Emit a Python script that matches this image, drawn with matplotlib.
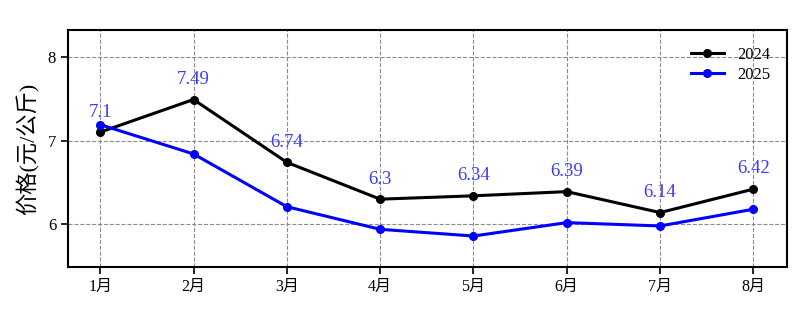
import matplotlib
matplotlib.use("Agg")
import matplotlib.pyplot as plt

months = ["1月", "2月", "3月", "4月", "5月", "6月", "7月", "8月"]
price_2024 = [7.10, 7.49, 6.74, 6.30, 6.34, 6.39, 6.14, 6.42]
price_2025 = [7.19, 6.84, 6.21, 5.94, 5.86, 6.02, 5.98, 6.18]
labels_2024 = ["7.1", "7.49", "6.74", "6.3", "6.34", "6.39", "6.14", "6.42"]

plt.rcParams['font.family'] = ['Liberation Serif', 'Noto Sans CJK SC', 'DejaVu Sans']
plt.rcParams['axes.unicode_minus'] = False

fig = plt.figure(figsize=(8.01, 3.13), dpi=100)
ax = fig.add_axes([68/801, 1 - 267/313, (787-68)/801, (267-30)/313])

x = list(range(len(months)))
ax.plot(x, price_2024, color='black', lw=2.2, marker='o', ms=5.5, label='2024', zorder=3)
ax.plot(x, price_2025, color='blue', lw=2.2, marker='o', ms=5.5, label='2025', zorder=3)

for xi, yi, lab in zip(x, price_2024, labels_2024):
    ax.annotate(lab, (xi, yi), xytext=(0, 14.5), textcoords='offset points',
                ha='center', va='center', color='#3a3aff', fontsize=13.5)

ax.set_xticks(x)
ax.set_xticklabels(months, fontsize=11.5)
ax.set_yticks([6, 7, 8])
ax.tick_params(axis='y', labelsize=12)
ax.set_xlim(-0.345, 7.36)
ax.set_ylim(5.49, 8.32)
ax.set_ylabel('价格(元/公斤)', fontsize=16, labelpad=6)
ax.grid(True, linestyle='--', color='gray', lw=0.8, alpha=0.9)
for s in ax.spines.values():
    s.set_linewidth(1.5)
ax.tick_params(direction='out', length=5, width=1.2)

ax.legend(loc='upper right', frameon=False, fontsize=12, labelspacing=0.25,
          borderaxespad=0.6, handlelength=2.0)

fig.savefig('out.png', dpi=100)
